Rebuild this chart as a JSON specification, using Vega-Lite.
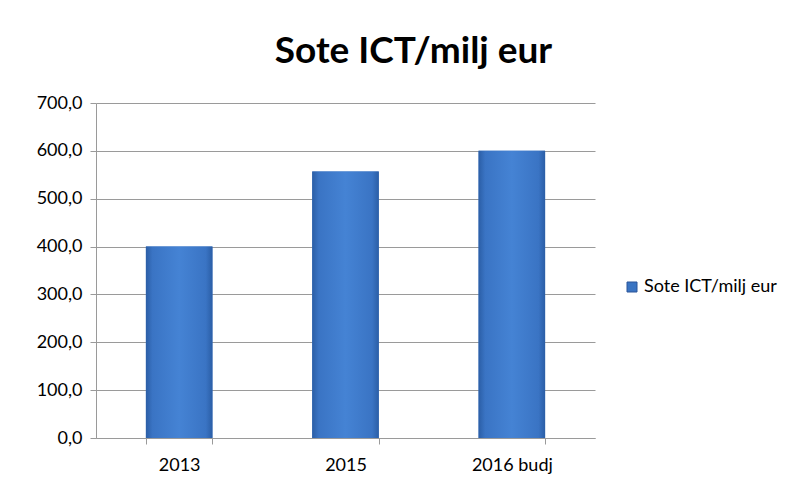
{
  "$schema": "https://vega.github.io/schema/vega-lite/v6.json",
  "autosize": "none",
  "width": 499,
  "height": 335,
  "padding": {"left": 96, "top": 103, "right": 213, "bottom": 53},
  "background": "white",
  "config": {"view": {"stroke": null}, "font": "Lato"},
  "title": {
    "text": "Sote ICT/milj eur",
    "font": "Lato",
    "fontSize": 37,
    "fontWeight": "bold",
    "color": "black",
    "anchor": "middle",
    "dx": 68,
    "offset": 23
  },
  "data": {
    "values": [
      {"year": "2013", "value": 400, "series": "Sote ICT/milj eur"},
      {"year": "2015", "value": 557, "series": "Sote ICT/milj eur"},
      {"year": "2016 budj", "value": 600, "series": "Sote ICT/milj eur"}
    ]
  },
  "encoding": {
    "x": {
      "field": "year",
      "type": "nominal",
      "sort": null,
      "scale": {"paddingInner": 0.6, "paddingOuter": 0.3},
      "axis": {
        "title": null,
        "labelAngle": 0,
        "labelFont": "Lato",
        "labelFontSize": 18,
        "labelColor": "black",
        "labelPadding": 12,
        "domainColor": "#9a9a9a",
        "tickColor": "#9a9a9a",
        "tickBand": "extent",
        "tickSize": 6
      }
    },
    "y": {
      "field": "value",
      "type": "quantitative",
      "scale": {"domain": [0, 700]},
      "axis": {
        "title": null,
        "values": [0, 100, 200, 300, 400, 500, 600, 700],
        "labelExpr": "replace(format(datum.value, '.1f'), '.', ',')",
        "labelFont": "Lato",
        "labelFontSize": 18,
        "labelColor": "black",
        "labelPadding": 8,
        "domainColor": "#9a9a9a",
        "tickColor": "#9a9a9a",
        "tickSize": 6,
        "gridColor": "#9a9a9a",
        "gridWidth": 1
      }
    }
  },
  "layer": [
    {
      "mark": {"type": "bar"},
      "encoding": {
        "color": {
          "field": "series",
          "type": "nominal",
          "scale": {"range": ["#3a74c2"]},
          "legend": {
            "title": null,
            "orient": "none",
            "legendX": 527,
            "legendY": 175,
            "symbolType": "square",
            "symbolSize": 100,
            "symbolStrokeColor": "#2a5599",
            "symbolStrokeWidth": 1,
            "labelFont": "Lato",
            "labelFontSize": 18,
            "labelColor": "black",
            "labelOffset": 3
          }
        }
      }
    },
    {
      "mark": {
        "type": "bar",
        "color": {
          "gradient": "linear",
          "x1": 0, "x2": 1, "y1": 0, "y2": 0,
          "stops": [
            {"offset": 0, "color": "#2b5ea6"},
            {"offset": 0.1, "color": "#3a74c4"},
            {"offset": 0.5, "color": "#4583d4"},
            {"offset": 0.9, "color": "#3a74c4"},
            {"offset": 1, "color": "#2b5ea6"}
          ]
        }
      },
      "encoding": {}
    }
  ]
}
